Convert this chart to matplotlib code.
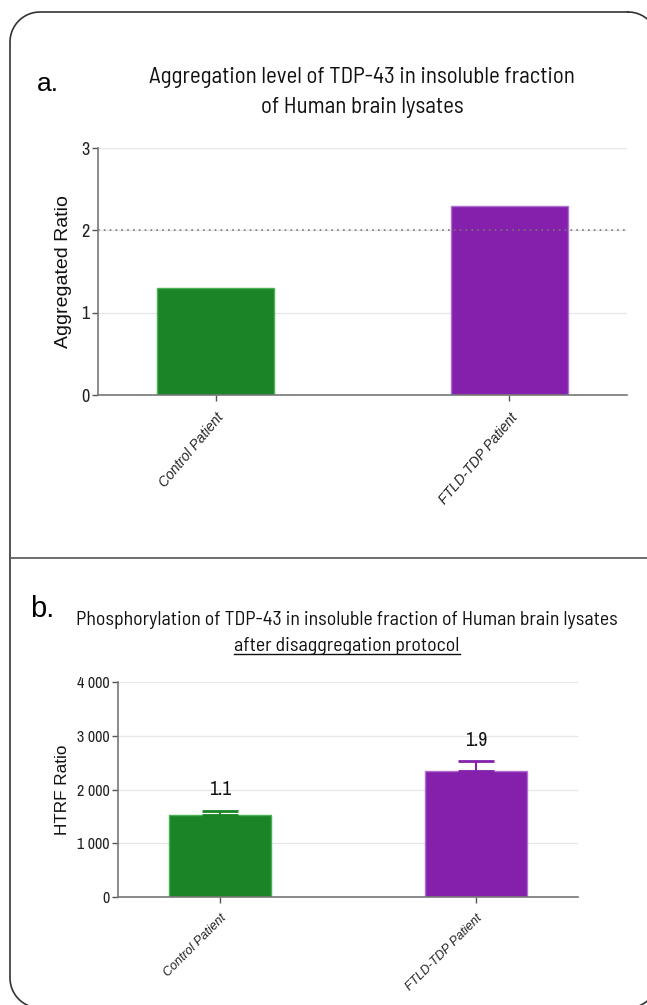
import numpy as np
import matplotlib.pyplot as plt
from matplotlib.lines import Line2D
from matplotlib.transforms import IdentityTransform
from matplotlib.ticker import FuncFormatter

groups = ["Control Patient", "FTLD-TDP Patient"]
colors = ["#1a8426", "#8420ab"]
edge_colors = ["#4caf55", "#b070d0"]

# panel a
agg_ratio = [1.3, 2.3]
agg_threshold = 2

# panel b
htrf_ratio = [1530, 2340]
htrf_err = [75, 190]
fold_labels = ["1.1", "1.9"]

title_font = ["Barlow Semi Condensed", "DejaVu Sans"]
narrow = ["Archivo Narrow", "PT Sans Narrow", "DejaVu Sans"]
plain = ["Liberation Sans", "DejaVu Sans"]

W, H = 647, 1005
fig = plt.figure(figsize=(W / 100, H / 100), dpi=100)

def px_axes(l, t, r, b):
    return fig.add_axes([l / W, 1 - b / H, (r - l) / W, (b - t) / H])

def style_axes(ax):
    for s in ["top", "right"]:
        ax.spines[s].set_visible(False)
    for s in ["left", "bottom"]:
        ax.spines[s].set_color("#777777")
        ax.spines[s].set_linewidth(1.2)
    ax.tick_params(axis="both", colors="#555555", length=4, width=1, pad=2)
    ax.tick_params(axis="x", pad=7)
    ax.set_axisbelow(True)

# ---- panel a ----
ax1 = px_axes(98, 148, 627, 395)
style_axes(ax1)
x = range(len(groups))
ax1.bar(x, agg_ratio, width=0.4, color=colors, edgecolor=edge_colors, linewidth=1)
ax1.axhline(agg_threshold, color="#777777", linestyle=(0, (1, 2.5)), linewidth=1.2, zorder=3)
ax1.set_xlim(-0.40, 1.40)
ax1.set_ylim(0, 3)
ax1.set_yticks([0, 1, 2, 3])
ax1.yaxis.grid(True, color="#e8e8e8", linewidth=1)
ax1.set_xticks(list(x))
ax1.set_xticklabels(groups, rotation=50, ha="right", rotation_mode="anchor",
                    fontsize=10, style="italic", family=plain, color="#222222")
for lab in ax1.get_yticklabels():
    lab.set_family(narrow)
    lab.set_fontsize(13)
    lab.set_color("#222222")
ax1.set_ylabel("Aggregated Ratio", fontsize=14, family=plain, color="#111111", labelpad=7)

# ---- panel b ----
ax2 = px_axes(118, 682, 578, 897)
style_axes(ax2)
ax2.bar(x, htrf_ratio, width=0.4, color=colors, edgecolor=edge_colors, linewidth=1)
for i in x:
    ax2.errorbar(i, htrf_ratio[i], yerr=[[0], [htrf_err[i]]], color=colors[i],
                 capsize=13, capthick=2, elinewidth=1.5, fmt="none")
    ax2.annotate(fold_labels[i], (i, htrf_ratio[i] + htrf_err[i]), xytext=(0, 15),
                 textcoords="offset points", ha="center", va="center",
                 fontsize=14, family=narrow, color="#111111")
ax2.set_xlim(-0.40, 1.40)
ax2.set_ylim(0, 4000)
ax2.set_yticks([0, 1000, 2000, 3000, 4000])
ax2.yaxis.set_major_formatter(FuncFormatter(lambda v, p: f"{int(v):,}".replace(",", " ")))
ax2.yaxis.grid(True, color="#e8e8e8", linewidth=1)
ax2.set_xticks(list(x))
ax2.set_xticklabels(groups, rotation=45, ha="right", rotation_mode="anchor",
                    fontsize=9, style="italic", family=plain, color="#222222")
for lab in ax2.get_yticklabels():
    lab.set_family(narrow)
    lab.set_fontsize(11.5)
    lab.set_color("#222222")
ax2.set_ylabel("HTRF Ratio", fontsize=12.3, family=plain, color="#111111", labelpad=5)

# ---- titles ----
fig.text(48 / W, 1 - 84 / H, "a.", fontsize=19, family=plain, ha="center", va="center")
fig.text(362 / W, 1 - 77 / H, "Aggregation level of TDP-43 in insoluble fraction",
         fontsize=16.5, family=title_font, ha="center", va="center", color="#111111")
fig.text(362 / W, 1 - 108 / H, "of Human brain lysates",
         fontsize=16.5, family=title_font, ha="center", va="center", color="#111111")

fig.text(42 / W, 1 - 609 / H, "b.", fontsize=21, family=plain, ha="center", va="center")
fig.text(347 / W, 1 - 620 / H, "Phosphorylation of TDP-43 in insoluble fraction of Human brain lysates",
         fontsize=14.3, family=title_font, ha="center", va="center", color="#111111")
sub = fig.text(347 / W, 1 - 646 / H, "after disaggregation protocol",
               fontsize=14.3, family=title_font, ha="center", va="center", color="#111111")

# ---- rounded frame (pixel coords, y from top) ----
x0, x1, y0, y1, r = 10, 658, 12, 1008, 30
t = np.linspace(0, np.pi / 2, 20)
px = np.concatenate([x1 - r + r * np.sin(t), x1 - r + r * np.cos(t),
                     x0 + r - r * np.sin(t), x0 + r - r * np.cos(t)])
py = np.concatenate([y0 + r - r * np.cos(t), y1 - r + r * np.sin(t),
                     y1 - r + r * np.cos(t), y0 + r - r * np.sin(t)])
px = np.append(px, px[0])
py = np.append(py, py[0])
fig.add_artist(Line2D(px, H - py, transform=IdentityTransform(), color="#333333", linewidth=1.2))
fig.add_artist(Line2D([x0, W], [H - 558, H - 558], transform=IdentityTransform(),
                      color="#555555", linewidth=1.2))

fig.canvas.draw()
bb = sub.get_window_extent()
fig.add_artist(Line2D([bb.x0, bb.x1], [bb.y0 + 1, bb.y0 + 1], transform=IdentityTransform(),
                      color="#111111", linewidth=1))

fig.savefig("out.png", dpi=100)
